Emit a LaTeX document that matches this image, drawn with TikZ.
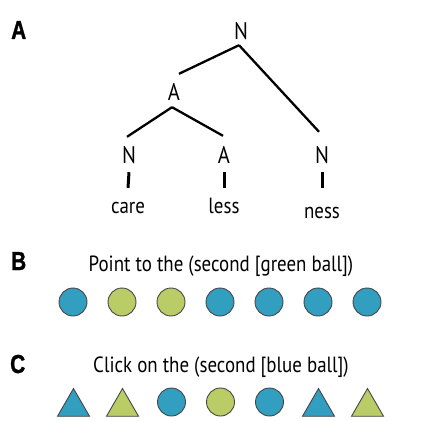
\documentclass[tikz,border=0pt]{standalone}
\usepackage{fontspec}
\setmainfont{PT Sans}[FakeStretch=0.86]
\newfontfamily\panelfont{Liberation Sans}[FakeStretch=0.8, FakeBold=1.2]
\usetikzlibrary{shapes.geometric}

\definecolor{blueball}{RGB}{50,158,192}
\definecolor{greenball}{RGB}{186,204,102}
\definecolor{rim}{RGB}{70,70,70}

\begin{document}
\begin{tikzpicture}[
  x=1pt, y=-1pt,
  cat/.style={font=\fontsize{24}{24}\selectfont, inner sep=0pt, anchor=base,
    text height=16pt, text depth=0pt},
  word/.style={cat, font=\fontsize{22}{22}\selectfont},
  panel/.style={font=\panelfont\bfseries\fontsize{26}{26}\selectfont, inner sep=0pt, anchor=base west},
  prompt/.style={font=\fontsize{22}{22}\selectfont, inner sep=0pt, anchor=base},
  branch/.style={line width=2.3pt},
  stem/.style={line width=3pt},
  ball/.style={circle, draw=rim, line width=0.9pt, minimum size=28pt, inner sep=0pt},
  tri/.style={regular polygon, regular polygon sides=3, draw=rim, line width=0.9pt,
    minimum size=37pt, inner sep=0pt, yshift=-5pt},
]
\useasboundingbox (0,0) rectangle (441,420);

% panel A: the tree
\node [panel] (pa) at (11,39) {A};
\node [cat] (nTop) at (241,40) {N};
\node [cat] (aMid) at (174,100) {A};
\node [cat] (nL) at (129,163) {N};
\node [cat] (aR) at (224,163) {A};
\node [cat] (nR) at (322,163) {N};
\node [word] (care) at (128,213) {care};
\node [word] (less) at (224,213) {less};
\node [word] (ness) at (322,218) {ness};

\draw [branch] ([xshift=-2pt,yshift=-5pt]nTop.south) -- ([xshift=5pt,yshift=10pt]aMid.north);
\draw [branch] ([xshift=-2pt,yshift=-5pt]nTop.south) -- ([xshift=-3pt,yshift=15pt]nR.north);
\draw [branch] ([xshift=-2pt,yshift=-7pt]aMid.south) -- ([xshift=-2pt,yshift=10pt]nL.north);
\draw [branch] ([xshift=-2pt,yshift=-7pt]aMid.south) -- ([xshift=-1pt,yshift=11pt]aR.north);

\draw [stem] ([yshift=-9pt]nL.south) -- ([yshift=9pt]care.north);
\draw [stem] ([yshift=-9pt]aR.south) -- ([yshift=9pt]less.north);
\draw [stem] ([yshift=-9pt]nR.south) -- ([yshift=14pt]ness.north);

% panel B
\node [panel] (pb) at (11,270) {B};
\node [prompt] (tb) at (221,271) {Point to the (second [green ball])};
\foreach \c [count=\i] in {blueball,greenball,greenball,blueball,blueball,blueball,blueball}
  \node [ball, fill=\c] (b\i) at ({24+49*\i},302) {};

% panel C
\node [panel] (pc) at (10,373) {C};
\node [prompt] (tc) at (221,372) {Click on the (second [blue ball])};
\foreach \s/\c [count=\i] in {tri/blueball,tri/greenball,ball/blueball,ball/greenball,
    ball/blueball,tri/blueball,tri/greenball}
  \node [\s, fill=\c] (c\i) at ({24.5+49*\i},402) {};

\end{tikzpicture}
\end{document}
